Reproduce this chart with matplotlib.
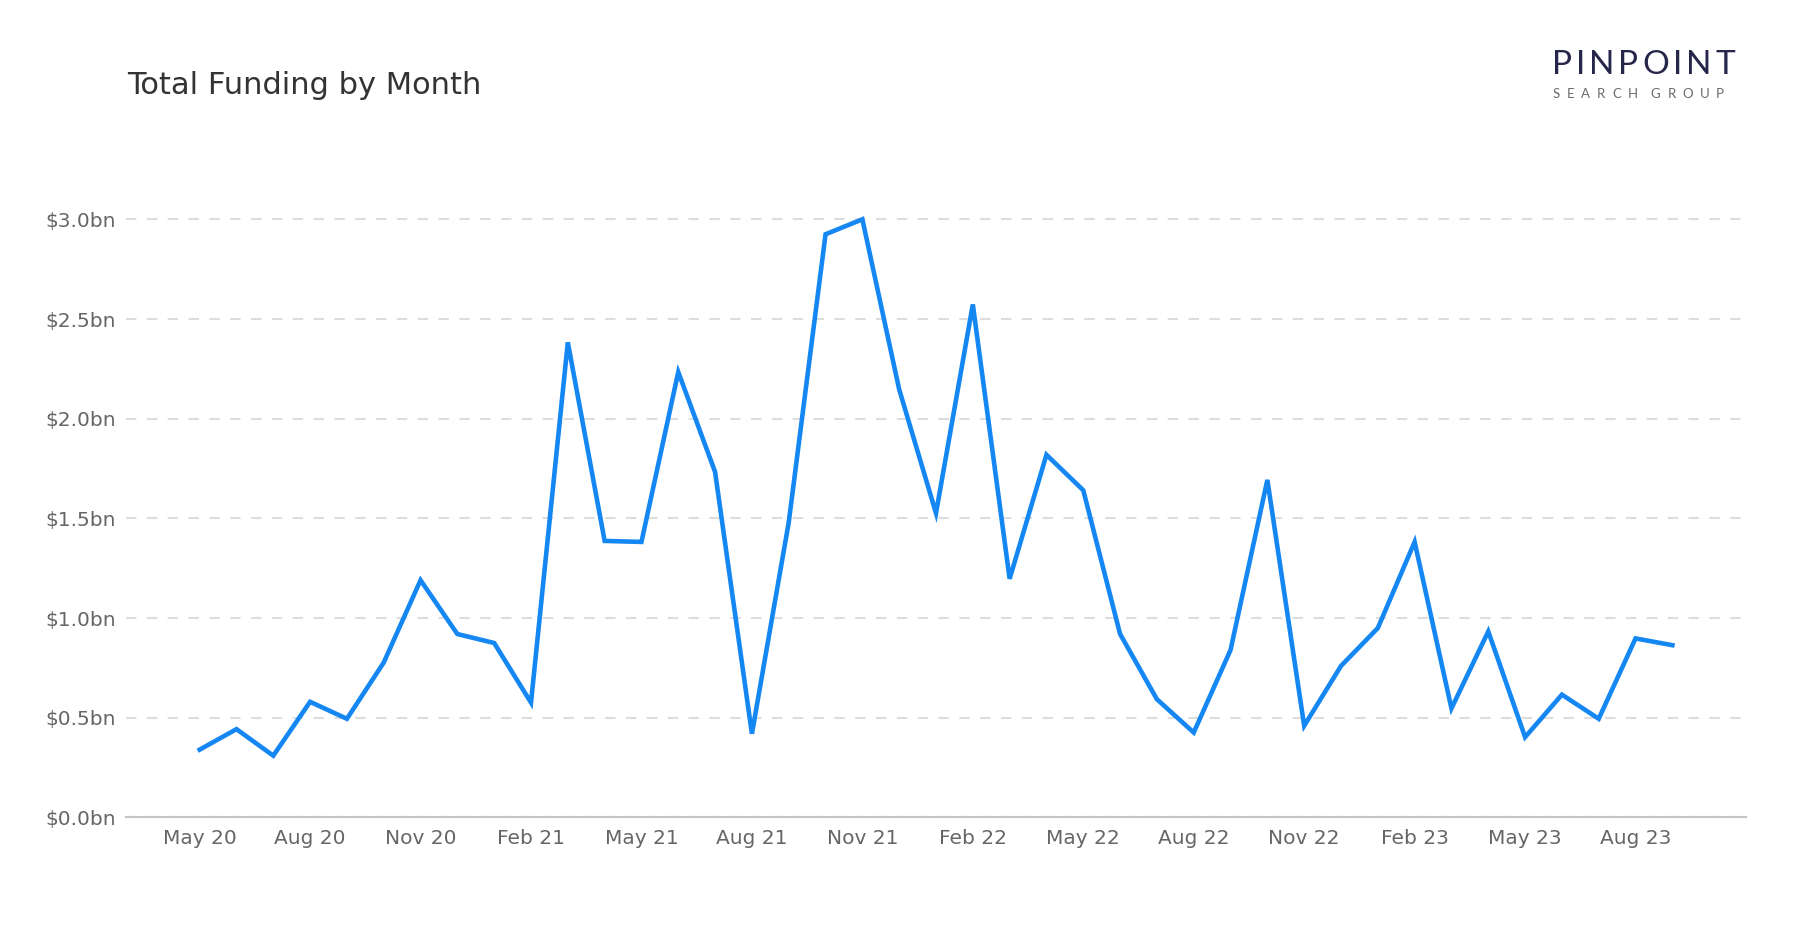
import matplotlib
matplotlib.use("Agg")
import matplotlib.pyplot as plt
from matplotlib.ticker import FuncFormatter, FixedLocator

months = ["May 20", "Jun 20", "Jul 20", "Aug 20", "Sep 20", "Oct 20", "Nov 20", "Dec 20",
          "Jan 21", "Feb 21", "Mar 21", "Apr 21", "May 21", "Jun 21", "Jul 21", "Aug 21",
          "Sep 21", "Oct 21", "Nov 21", "Dec 21", "Jan 22", "Feb 22", "Mar 22", "Apr 22",
          "May 22", "Jun 22", "Jul 22", "Aug 22", "Sep 22", "Oct 22", "Nov 22", "Dec 22",
          "Jan 23", "Feb 23", "Mar 23", "Apr 23", "May 23", "Jun 23", "Jul 23", "Aug 23",
          "Sep 23"]
funding_bn = [0.34, 0.443, 0.31, 0.58, 0.495, 0.777, 1.19, 0.92,
              0.875, 0.576, 2.383, 1.387, 1.382, 2.234, 1.733, 0.42,
              1.48, 2.925, 3.0, 2.147, 1.526, 2.573, 1.197, 1.819,
              1.641, 0.92, 0.593, 0.426, 0.84, 1.693, 0.46, 0.76,
              0.95, 1.382, 0.547, 0.933, 0.403, 0.616, 0.495, 0.898,
              0.864]
y_ticks = [0.0, 0.5, 1.0, 1.5, 2.0, 2.5, 3.0]
title = "Total Funding by Month"
logo_main = "PINPOINT"
logo_sub = "SEARCH GROUP"

W, H = 1800, 930
fig = plt.figure(figsize=(18, 9.3), dpi=100)
ax = fig.add_axes([0.07, 0.121, 0.90, 0.7075])

x = list(range(len(months)))
ax.plot(x, funding_bn, color="#1487F2", lw=3.3, solid_joinstyle="miter", zorder=3)

ax.set_xlim(-2, len(months) + 1)
ax.set_ylim(0, 3.3)

tick_idx = [i for i, m in enumerate(months) if m.split()[0] in ("May", "Aug", "Nov", "Feb")]
ax.xaxis.set_major_locator(FixedLocator(tick_idx))
ax.set_xticklabels([months[i] for i in tick_idx])
ax.yaxis.set_major_locator(FixedLocator(y_ticks))
ax.yaxis.set_major_formatter(FuncFormatter(lambda v, p: f"${v:.1f}bn"))

ax.tick_params(axis="both", length=0, labelsize=14.5, labelcolor="#666666")
ax.tick_params(axis="y", pad=7)
ax.tick_params(axis="x", pad=8)

ax.grid(axis="y", color="#dddddd", linestyle=(0, (5, 5)), lw=1.5, zorder=0)
ax.grid(axis="x", visible=False)
for s in ["top", "right", "left"]:
    ax.spines[s].set_visible(False)
ax.spines["bottom"].set_color("#c4c4c4")
ax.spines["bottom"].set_linewidth(1.5)
ax.set_axisbelow(True)

fig.text(0.0705, 1 - 85 / H, title, fontsize=22, color="#333333", va="center", ha="left")

# logo: letter-spaced text spread between two pixel edges
renderer = fig.canvas.get_renderer()


def spaced(text, x0, x1, yc, space_w=0.0, **kw):
    arts = []
    widths = []
    for ch in text:
        t = fig.text(0, 1 - yc / H, ch, va="center", ha="left", **kw)
        bb = t.get_window_extent(renderer=renderer)
        arts.append(t)
        widths.append(space_w if ch == " " else bb.width)
    gap = (x1 - x0 - sum(widths)) / (len(text) - 1)
    cx = x0
    for t, w in zip(arts, widths):
        t.set_x(cx / W)
        cx += w + gap


spaced(logo_main, 1552, 1735, 65, fontsize=24, family="Lato", color="#26264a")
spaced(logo_sub, 1553, 1724, 94, space_w=0.0, fontsize=9.5, family="Lato", color="#6a6a6a")

fig.savefig("out.png", dpi=100, facecolor="white")
